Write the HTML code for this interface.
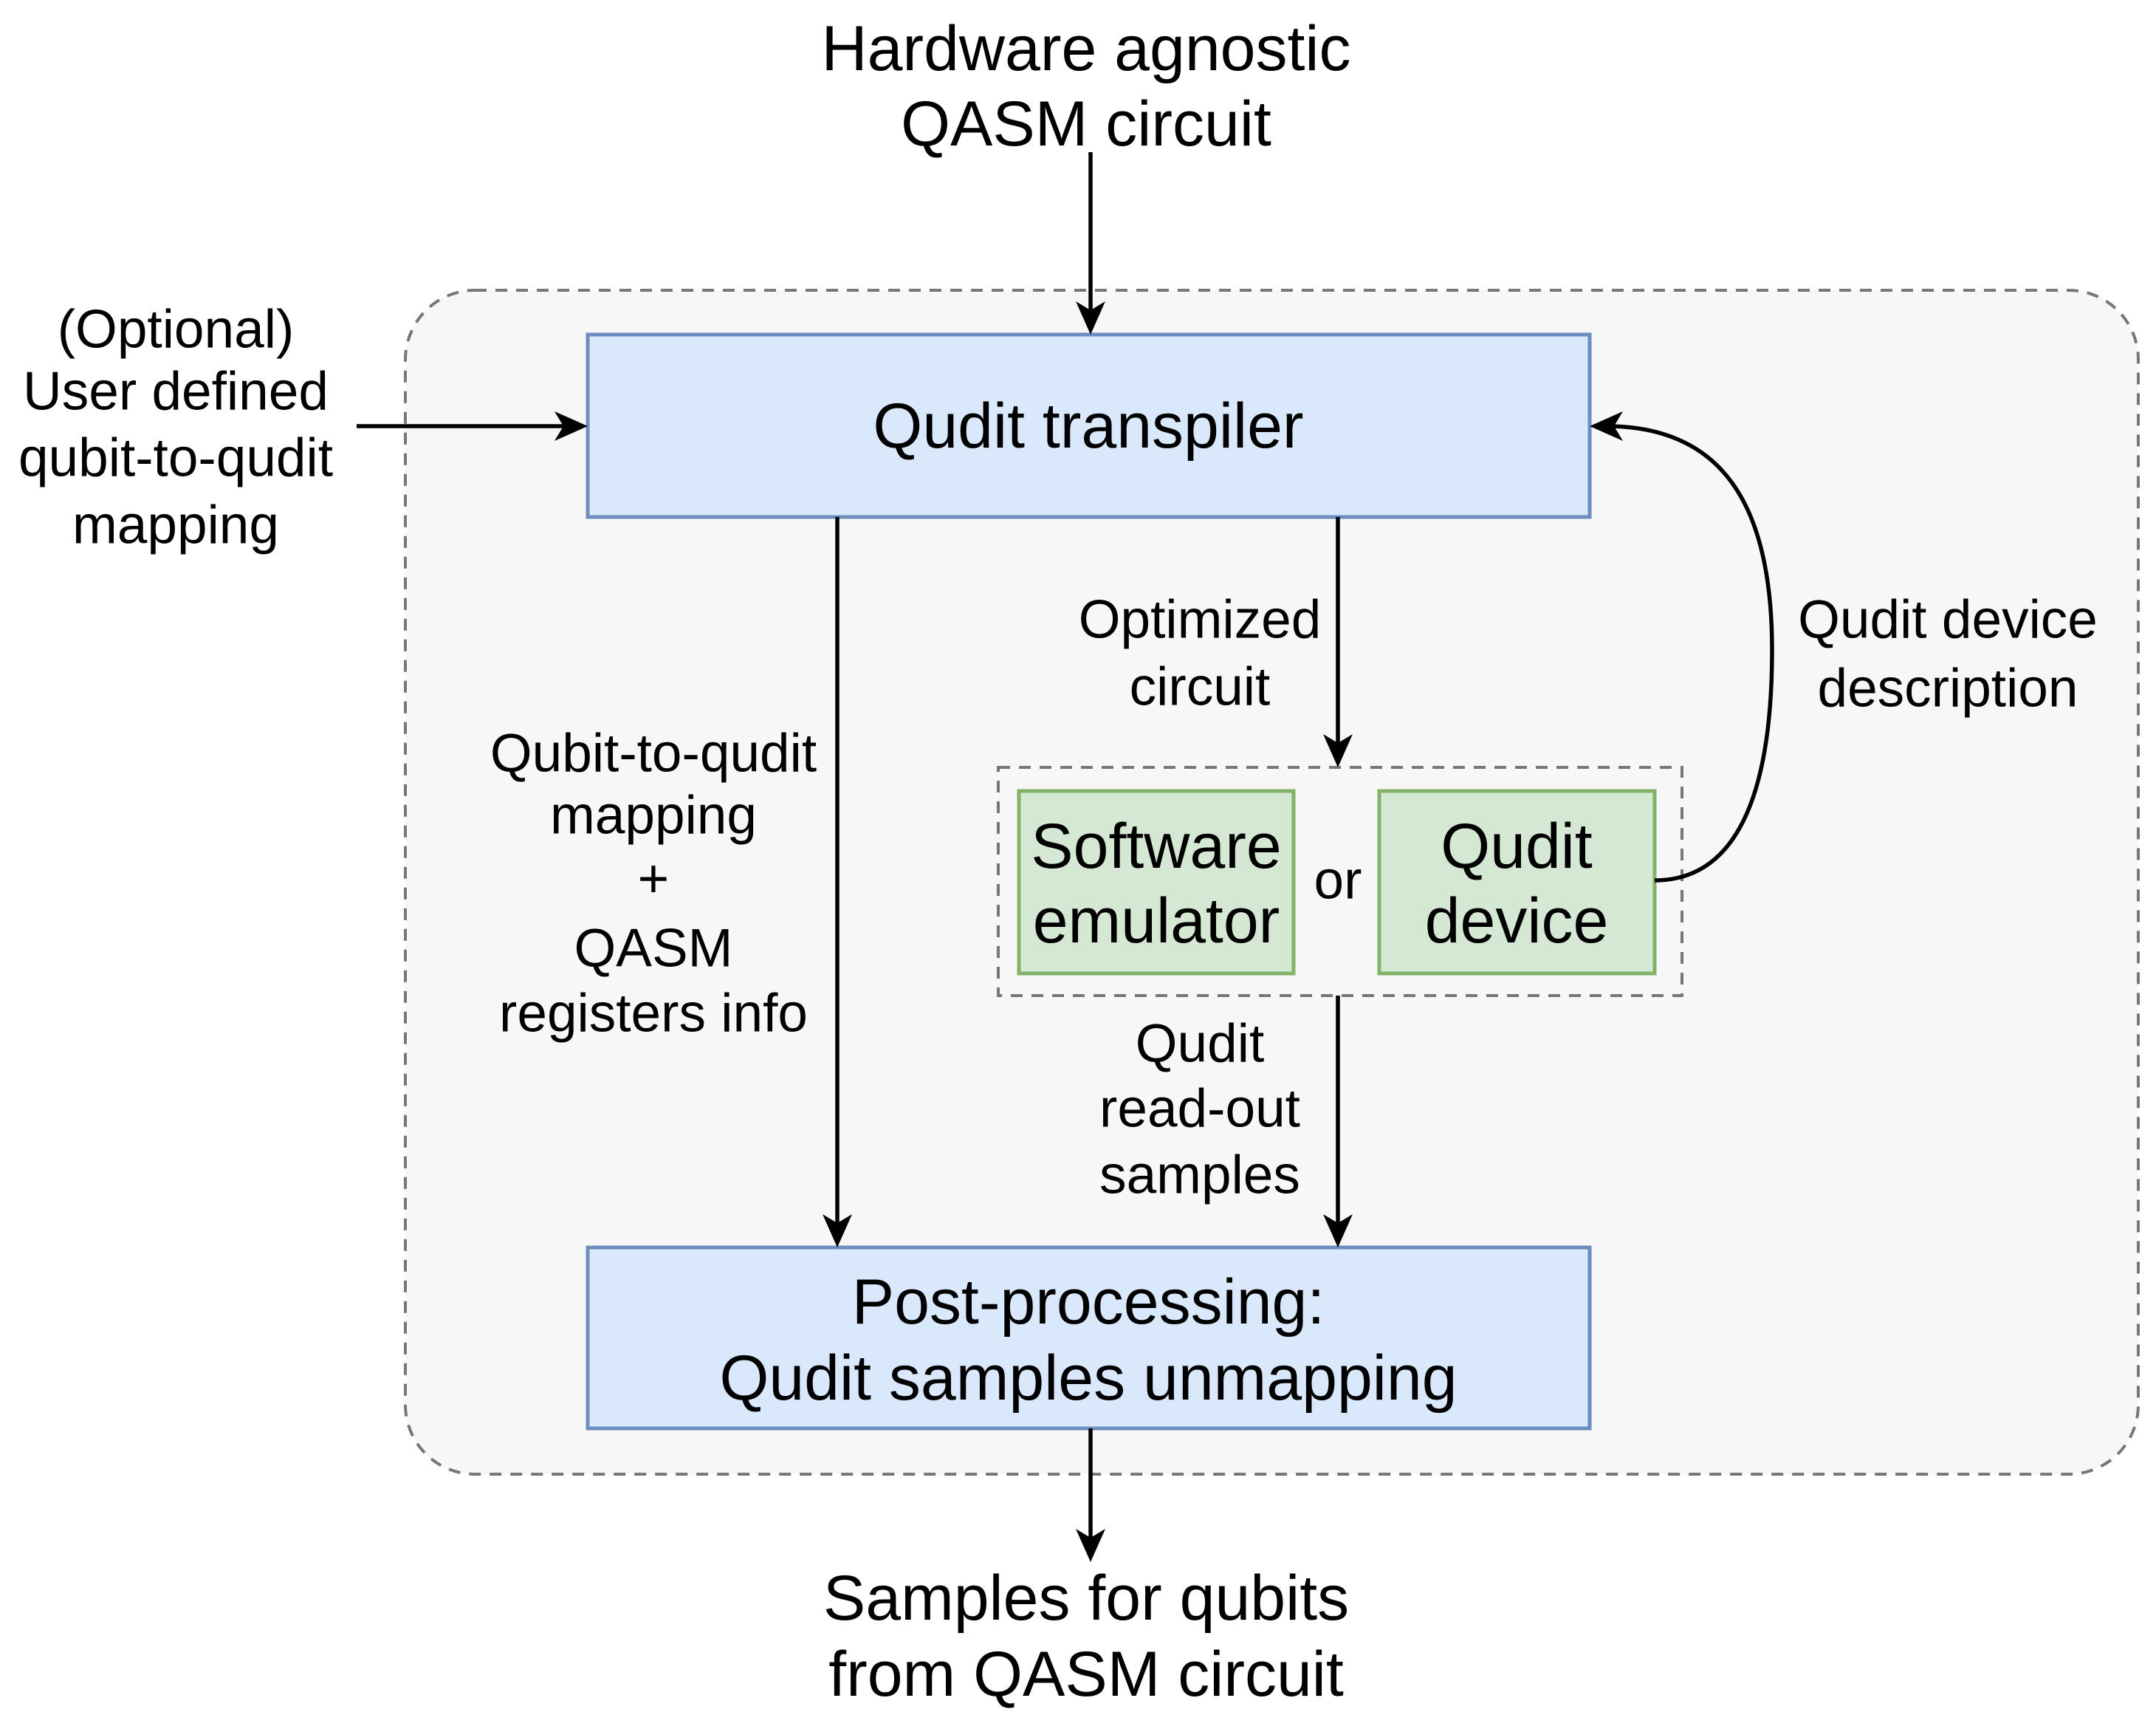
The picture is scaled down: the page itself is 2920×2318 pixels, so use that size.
<!DOCTYPE html>
<html><head><meta charset="utf-8"><style>html,body{margin:0;padding:0;background:#fff}svg{display:block}</style></head><body>
<svg width="2920" height="2318" viewBox="0 0 2920 2318" xmlns="http://www.w3.org/2000/svg" font-family="Liberation Sans, Arial, sans-serif" fill="#000">
<rect x="549" y="393" width="2347" height="1603" rx="94" fill="#f7f7f7" stroke="#777" stroke-width="4" stroke-dasharray="16,12"/>
<rect x="796" y="453" width="1357" height="247" fill="#dae8fc" stroke="#6c8ebf" stroke-width="5"/>
<rect x="796" y="1689" width="1357" height="245" fill="#dae8fc" stroke="#6c8ebf" stroke-width="5"/>
<rect x="1352" y="1039" width="926" height="309" fill="none" stroke="#777" stroke-width="4" stroke-dasharray="16,12"/>
<rect x="1380" y="1071" width="372" height="247" fill="#d5e8d4" stroke="#82b366" stroke-width="5"/>
<rect x="1868" y="1071" width="373" height="247" fill="#d5e8d4" stroke="#82b366" stroke-width="5"/>
<g stroke="#000" stroke-width="5.5" fill="none">
<line x1="1477" y1="206" x2="1477" y2="430"/>
<line x1="483" y1="577" x2="775" y2="577"/>
<line x1="1134" y1="700" x2="1134" y2="1666"/>
<line x1="1812" y1="700" x2="1812" y2="1018"/>
<line x1="1812" y1="1348" x2="1812" y2="1666"/>
<line x1="1477" y1="1934" x2="1477" y2="2092"/>
<path d="M2241 1192 C2350 1192 2400 1080 2400 880 C2400 680 2330 577 2175 577"/>
</g>
<g fill="#000">
<path d="M1477 453 L1457 408 L1477 420 L1497 408 Z"/>
<path d="M796 577 L751 557 L763 577 L751 597 Z"/>
<path d="M1134 1689 L1114 1644 L1134 1656 L1154 1644 Z"/>
<path d="M1812 1039 L1792 994 L1812 1006 L1832 994 Z"/>
<path d="M1812 1689 L1792 1644 L1812 1656 L1832 1644 Z"/>
<path d="M1477 2115 L1457 2070 L1477 2082 L1497 2070 Z"/>
<path d="M2153 577 L2198 557 L2186 577 L2198 597 Z"/>
</g>
<g text-anchor="middle" dominant-baseline="central">
<g font-size="86"><text x="1471" y="66">Hardware agnostic</text><text x="1471" y="168">QASM circuit</text>
<text x="1474" y="577">Qudit transpiler</text>
<text x="1474" y="1763">Post-processing:</text><text x="1474" y="1866">Qudit samples unmapping</text>
<text x="1471" y="2164">Samples for qubits</text><text x="1471" y="2267">from QASM circuit</text></g>
<g font-size="86"><text x="1566" y="1146">Software</text><text x="1566" y="1247">emulator</text>
<text x="2054" y="1146">Qudit</text><text x="2054" y="1247">device</text></g>
<g font-size="73"><text x="238" y="446">(Optional)</text><text x="238" y="530">User defined</text><text x="238" y="620">qubit-to-qudit</text><text x="238" y="711">mapping</text>
<text x="885" y="1020">Qubit-to-qudit</text><text x="885" y="1104">mapping</text><text x="885" y="1190">+</text><text x="885" y="1284">QASM</text><text x="885" y="1372">registers info</text>
<text x="1625" y="839">Optimized</text><text x="1625" y="930">circuit</text>
<text x="2638" y="839">Qudit device</text><text x="2638" y="932">description</text>
<text x="1625" y="1413">Qudit</text><text x="1625" y="1501">read-out</text><text x="1625" y="1591">samples</text>
<text x="1812" y="1192">or</text></g>
</g>
</svg>
</body></html>
